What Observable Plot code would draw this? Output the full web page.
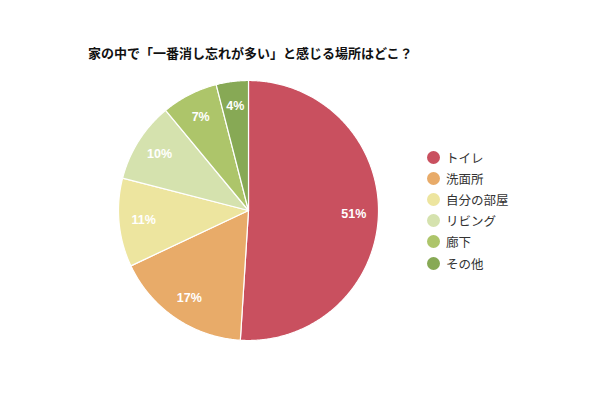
<!DOCTYPE html>
<html>
<head>
<meta charset="utf-8">
<script src="https://cdn.jsdelivr.net/npm/d3@7"></script>
<script src="https://cdn.jsdelivr.net/npm/@observablehq/plot@0.6"></script>
<style>
  html, body { margin: 0; padding: 0; background: #fff; }
  #wrap { position: relative; width: 600px; height: 400px; overflow: hidden;
    font-family: "Liberation Sans", "Noto Sans CJK JP", sans-serif; }
  #title { position: absolute; left: 88px; top: 43px; font-size: 13px; font-weight: bold; color: #111; }
  #chart { position: absolute; left: 0; top: 70px; }
  #legend { position: absolute; left: 427px; top: 146.5px; font-size: 12.5px; color: #333; }
  .row { display: flex; align-items: center; height: 21.2px; }
  .sw { width: 13px; height: 13px; border-radius: 50%; margin-right: 6px; }
</style>
</head>
<body>
<div id="wrap">
  <div id="title"></div>
  <div id="chart"></div>
  <div id="legend"></div>
</div>
<script>
const titleText = "家の中で「一番消し忘れが多い」と感じる場所はどこ？";
const categories = ["トイレ", "洗面所", "自分の部屋", "リビング", "廊下", "その他"];
const values = [51, 17, 11, 10, 7, 4];
const colors = ["#c9505f", "#e8ab69", "#ede59f", "#d5e2ae", "#adc56a", "#87a955"];

document.getElementById("title").textContent = titleText;

const total = d3.sum(values);
const pie = d3.pie().sort(null).value(d => d.value)(categories.map((name, i) => ({name, value: values[i]})));

// slice outlines in unit-circle coordinates (angle clockwise from 12 o'clock)
const slicePts = [];
for (const a of pie) {
  const name = a.data.name;
  slicePts.push({name, x: 0, y: 0});
  const n = Math.max(4, Math.ceil((a.endAngle - a.startAngle) / (Math.PI / 360)));
  for (let k = 0; k <= n; k++) {
    const t = a.startAngle + (a.endAngle - a.startAngle) * k / n;
    slicePts.push({name, x: Math.sin(t), y: Math.cos(t)});
  }
  slicePts.push({name, x: 0, y: 0});
}
const labels = pie.map(a => {
  const m = (a.startAngle + a.endAngle) / 2;
  return {name: a.data.name, label: Math.round(a.data.value / total * 100) + "%", x: 0.81 * Math.sin(m), y: 0.81 * Math.cos(m)};
});

const plot = Plot.plot({
  width: 600,
  height: 290,
  marginLeft: 118,
  marginRight: 222,
  marginTop: 10,
  marginBottom: 20,
  x: {domain: [-1, 1], axis: null},
  y: {domain: [-1, 1], axis: null},
  color: {domain: categories, range: colors},
  style: {fontFamily: "'Liberation Sans', 'Noto Sans CJK JP', sans-serif", background: "white"},
  marks: [
    Plot.line(slicePts, {x: "x", y: "y", z: "name", fill: "name", stroke: "white", strokeWidth: 1.2, curve: "linear-closed"}),
    Plot.text(labels, {x: "x", y: "y", text: "label", fill: "white", fontSize: 12.5, fontWeight: "bold"})
  ]
});
document.getElementById("chart").appendChild(plot);

const legend = document.getElementById("legend");
categories.forEach((c, i) => {
  const row = document.createElement("div");
  row.className = "row";
  const sw = document.createElement("span");
  sw.className = "sw";
  sw.style.background = colors[i];
  const tx = document.createElement("span");
  tx.textContent = c;
  row.appendChild(sw);
  row.appendChild(tx);
  legend.appendChild(row);
});
</script>
</body>
</html>
